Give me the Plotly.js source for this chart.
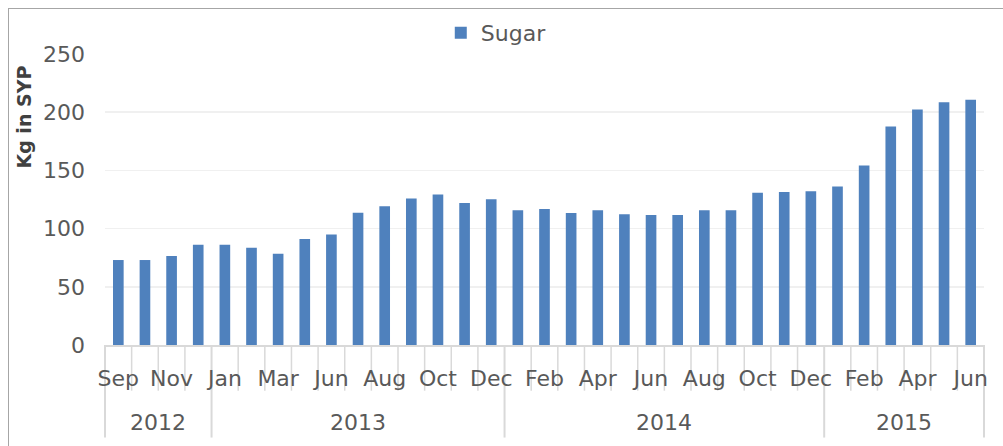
<!DOCTYPE html>
<html>
<head>
<meta charset="utf-8">
<script src="https://cdn.plot.ly/plotly-3.0.1.min.js"></script>
<style>
  html, body { margin: 0; padding: 0; background: #fff; overflow: hidden; }
  #wrap { position: relative; width: 1003px; height: 446px; overflow: hidden; }
  #frame { position: absolute; left: 8px; top: 8px; width: 1100px; height: 600px; border: 1.5px solid #a6a6a6; box-sizing: border-box; pointer-events: none; z-index: 2; }
  #chart { position: absolute; left: 0; top: 0; width: 1003px; height: 446px; }
</style>
</head>
<body>
<div id="wrap">
  <div id="chart"></div>
  <div id="frame"></div>
</div>
<script>
// ---- data ----
const years = ['2012', '2013', '2014', '2015'];
const months2012 = ['Sep', 'Oct', 'Nov', 'Dec'];
const months2013 = ['Jan', 'Feb', 'Mar', 'May', 'Jun', 'Jul', 'Aug', 'Sep', 'Oct', 'Nov', 'Dec'];
const months2014 = ['Jan', 'Feb', 'Mar', 'Apr', 'May', 'Jun', 'Jul', 'Aug', 'Sep', 'Oct', 'Nov', 'Dec'];
const months2015 = ['Jan', 'Feb', 'Mar', 'Apr', 'May', 'Jun'];
const sugar = [73, 73, 76.4, 86.1,
  86.1, 83.5, 78.4, 91, 94.9, 113.7, 119.1, 125.9, 129.3, 121.9, 125.3,
  115.7, 116.8, 113.4, 115.7, 112.3, 111.7, 111.7, 115.7, 115.7, 130.7, 131.5, 132.1,
  136.1, 154.3, 187.8, 202.3, 208.6, 210.8];
const seriesName = 'Sugar';
const yTitle = 'Kg in SYP';

// ---- build categories ----
const monthGroups = [months2012, months2013, months2014, months2015];
const cats = [], monthLabels = [];
monthGroups.forEach((g, gi) => g.forEach(m => { cats.push(m + ' ' + years[gi]); monthLabels.push(m); }));
const N = cats.length;
const tickText = monthLabels.map((m, i) => (i % 2 === 0 ? m : ''));

const txtColor = '#595959';
const lineColor = '#d9d9d9';
const font = 'DejaVu Sans';

// category boundary ticks, year dividers & year labels (paper coords from category counts)
const shapes = [];
const annotations = [];
const yearEdges = new Set([0]);
let start = 0;
monthGroups.forEach((g, gi) => {
  const end = start + g.length;
  yearEdges.add(end);
  annotations.push({xref: 'paper', yref: 'paper', x: (start + g.length / 2) / N, y: -0.266,
    text: years[gi], showarrow: false, xanchor: 'center', yanchor: 'middle',
    font: {family: font, size: 22, color: txtColor}});
  start = end;
});
for (let b = 0; b <= N; b++) {
  const isYear = yearEdges.has(b);
  shapes.push({type: 'line', layer: 'below', xref: 'paper', yref: 'paper', x0: b / N, x1: b / N,
    y0: 0, y1: isYear ? -0.318 : -0.157, line: {color: lineColor, width: isYear ? 2 : 1.5}});
}
annotations.push({xref: 'paper', yref: 'paper', x: -0.092, y: 0.782, text: '<b>' + yTitle + '</b>',
  textangle: -90, showarrow: false, xanchor: 'center', yanchor: 'middle',
  font: {family: font, size: 19, color: '#404040'}});

const trace = {
  type: 'bar', x: cats, y: sugar, name: seriesName, width: 0.4,
  marker: {color: '#4f81bd'}, showlegend: true
};

const layout = {
  width: 1003, height: 446,
  margin: {l: 105, r: 19, t: 52, b: 101, pad: 0},
  paper_bgcolor: 'rgba(0,0,0,0)', plot_bgcolor: 'rgba(0,0,0,0)',
  font: {family: font, size: 22, color: txtColor},
  showlegend: true,
  legend: {orientation: 'h', x: 0.382, xanchor: 'left', y: 1.072, yanchor: 'middle',
    font: {family: font, size: 22, color: txtColor}, bgcolor: 'rgba(0,0,0,0)'},
  xaxis: {
    type: 'category', range: [-0.5, N - 0.5],
    tickmode: 'array', tickvals: cats, ticktext: tickText, tickangle: 0,
    ticks: '', ticklabelstandoff: 13,
    showline: true, linecolor: lineColor, linewidth: 2, showgrid: false, zeroline: false,
    tickfont: {family: font, size: 22, color: txtColor}, fixedrange: true
  },
  yaxis: {
    range: [0, 250], dtick: 50, tick0: 0, showgrid: true, gridcolor: '#f0f0f0', gridwidth: 1.5,
    zeroline: false, showline: false, ticks: '', ticklabelstandoff: 19,
    tickfont: {family: font, size: 22, color: txtColor}, fixedrange: true
  },
  shapes: shapes,
  annotations: annotations,
  bargap: 0.6
};

Plotly.newPlot('chart', [trace], layout, {displayModeBar: false, staticPlot: true});
</script>
</body>
</html>
